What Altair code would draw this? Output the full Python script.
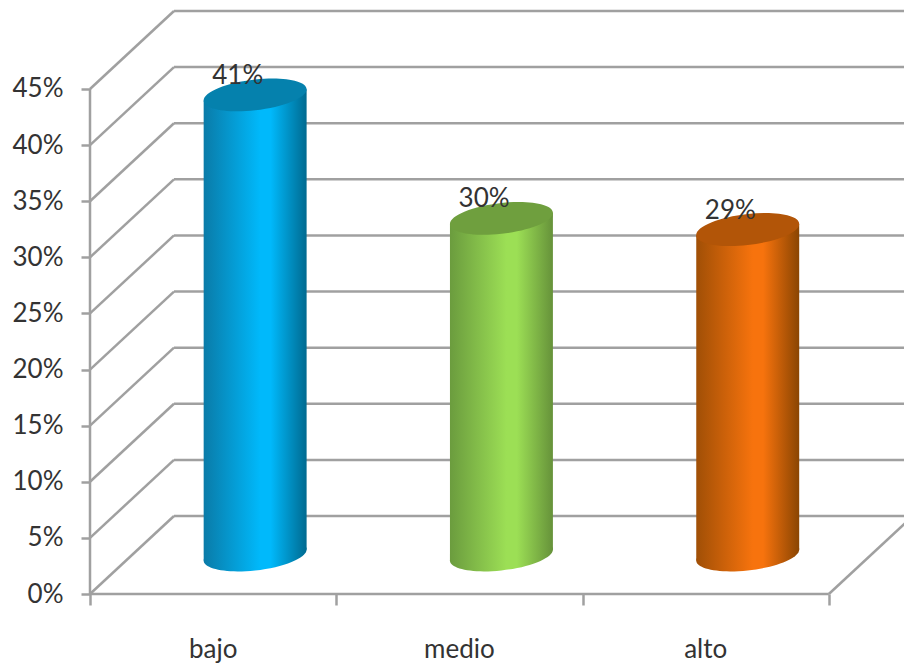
import altair as alt
import pandas as pd

# Survey shares per level
categories = ["bajo", "medio", "alto"]
shares = [41, 30, 29]
tick_values = [0, 5, 10, 15, 20, 25, 30, 35, 40, 45]
band_edges = [0, 1, 2, 3]

# Cylinder shading: edge, centre, far edge, lid
palettes = [
    ("#0a7ba8", "#00b9fb", "#006a90", "#0581ad"),
    ("#6b9c3e", "#9cdf55", "#66923a", "#6f9f3e"),
    ("#a04f06", "#f7730d", "#8a4502", "#b25508"),
]

# Oblique projection of the floor and walls, in axis units
DEPTH_X = 0.341
DEPTH_Y = 6.95
X_MAX = 3.305
Y_MAX = 52.93
# Half width of a cylinder and the tilt of its ends
HALF_W = 0.209
TILT = 0.5
CAP_SIZE = 103 ** 2
LINE = "#a0a0a0"
TEXT = "#333333"
FONT = "Lato"
FONT_SIZE = 26

x_scale = alt.Scale(domain=[0, X_MAX], nice=False, zero=False)
y_scale = alt.Scale(domain=[0, Y_MAX], nice=False, zero=False)

# The same axis definitions go on every layer so that they merge cleanly
x_axis = alt.Axis(
    values=band_edges, labels=False, domain=False, grid=False, title=None,
    tickColor=LINE, tickWidth=2.5, tickSize=11)
y_axis = alt.Axis(
    values=tick_values, labelExpr="datum.value + '%'", domain=False, grid=False, title=None,
    tickColor=LINE, tickWidth=2.5, tickSize=9, labelPadding=18,
    labelFont=FONT, labelFontSize=FONT_SIZE, labelColor=TEXT)


def cap_path(b=0.3, s=0.109, k=0.5523):
    """Closed unit path for a slightly rotated ellipse, as a sheared circle."""
    def pt(cx, sy):
        return f"{cx:.4f},{(b * sy - s * cx):.4f}"
    return (
        f"M{pt(-1, 0)}"
        f"C{pt(-1, k)} {pt(-k, 1)} {pt(0, 1)}"
        f"C{pt(k, 1)} {pt(1, k)} {pt(1, 0)}"
        f"C{pt(1, -k)} {pt(k, -1)} {pt(0, -1)}"
        f"C{pt(-k, -1)} {pt(-1, -k)} {pt(-1, 0)}Z"
    )


CAP = cap_path()


def shade(edge, mid, far):
    return alt.Gradient(
        gradient="linear", x1=0, x2=1, y1=0, y2=0,
        stops=[
            alt.GradientStop(offset=0, color=edge),
            alt.GradientStop(offset=0.55, color=mid),
            alt.GradientStop(offset=0.65, color=mid),
            alt.GradientStop(offset=1, color=far),
        ],
    )


def X(field):
    return alt.X(f"{field}:Q", scale=x_scale, axis=x_axis)


def Y(field):
    return alt.Y(f"{field}:Q", scale=y_scale, axis=y_axis)


# Walls: back lines, side diagonals, and the front frame
walls = pd.DataFrame({
    "v": tick_values,
    "v_back": [v + DEPTH_Y for v in tick_values],
    "x_back": [DEPTH_X] * len(tick_values),
    "x_end": [X_MAX] * len(tick_values),
    "x_front": [0] * len(tick_values),
})
back_lines = alt.Chart(walls).mark_rule(color=LINE, strokeWidth=2.5).encode(
    x=X("x_back"), x2="x_end:Q", y=Y("v_back"))
side_lines = alt.Chart(walls).mark_rule(color=LINE, strokeWidth=2.5).encode(
    x=X("x_front"), x2="x_back:Q", y=Y("v"), y2="v_back:Q")
floor_side = alt.Chart(pd.DataFrame({
    "x": [3], "x2": [3 + DEPTH_X], "y": [0], "y2": [DEPTH_Y],
})).mark_rule(color=LINE, strokeWidth=2.5).encode(
    x=X("x"), x2="x2:Q", y=Y("y"), y2="y2:Q")
front_v = alt.Chart(pd.DataFrame({"x": [0], "y": [0], "y2": [45]})).mark_rule(
    color=LINE, strokeWidth=2.5).encode(x=X("x"), y=Y("y"), y2="y2:Q")
front_h = alt.Chart(pd.DataFrame({"x": [0], "x2": [3], "y": [0]})).mark_rule(
    color=LINE, strokeWidth=2.5).encode(x=X("x"), x2="x2:Q", y=Y("y"))

layers = [back_lines, side_lines, floor_side, front_v, front_h]

# One cylinder per category: base ellipse, body, then the darker lid
for i, (name, share) in enumerate(zip(categories, shares)):
    edge, mid, far, lid = palettes[i]
    fill = shade(edge, mid, far)
    cx = i + 0.5 + DEPTH_X / 2
    top = share + DEPTH_Y / 2
    base = DEPTH_Y / 2
    body = pd.DataFrame({
        "x": [cx - HALF_W, cx + HALF_W],
        "top": [top - TILT, top + TILT],
        "base": [base - TILT, base + TILT],
    })
    ends = pd.DataFrame({"x": [cx], "top": [top], "base": [base]})
    layers.append(alt.Chart(ends).mark_point(
        shape=CAP, size=CAP_SIZE, filled=True, fill=fill, opacity=1, strokeWidth=0
    ).encode(x=X("x"), y=Y("base")))
    layers.append(alt.Chart(body).mark_area(orient="vertical", fill=fill, opacity=1).encode(
        x=X("x"), y=Y("top"), y2="base:Q"))
    layers.append(alt.Chart(ends).mark_point(
        shape=CAP, size=CAP_SIZE, filled=True, fill=lid, opacity=1, strokeWidth=0
    ).encode(x=X("x"), y=Y("top")))

# Value and category labels
labels = pd.DataFrame({
    "cat": categories,
    "share": shares,
    "txt": [f"{s}%" for s in shares],
    "xv": [i + 0.6 for i in range(3)],
    "xc": [i + 0.5 for i in range(3)],
    "zero": [0, 0, 0],
})
layers.append(alt.Chart(labels).mark_text(
    font=FONT, fontSize=FONT_SIZE, color=TEXT, dy=-58, baseline="middle"
).encode(x=X("xv"), y=Y("share"), text="txt:N"))
layers.append(alt.Chart(labels).mark_text(
    font=FONT, fontSize=FONT_SIZE, color=TEXT, dy=56, baseline="middle"
).encode(x=X("xc"), y=Y("zero"), text="cat:N"))

chart = alt.layer(*layers).properties(
    width=814,
    height=594,
    padding={"left": 90, "top": 0, "right": 0, "bottom": 76},
    autosize=alt.AutoSizeParams(type="none"),
    background="white",
).configure_view(stroke=None)

chart.save("out.html", embed_options={"renderer": "svg", "actions": False})
